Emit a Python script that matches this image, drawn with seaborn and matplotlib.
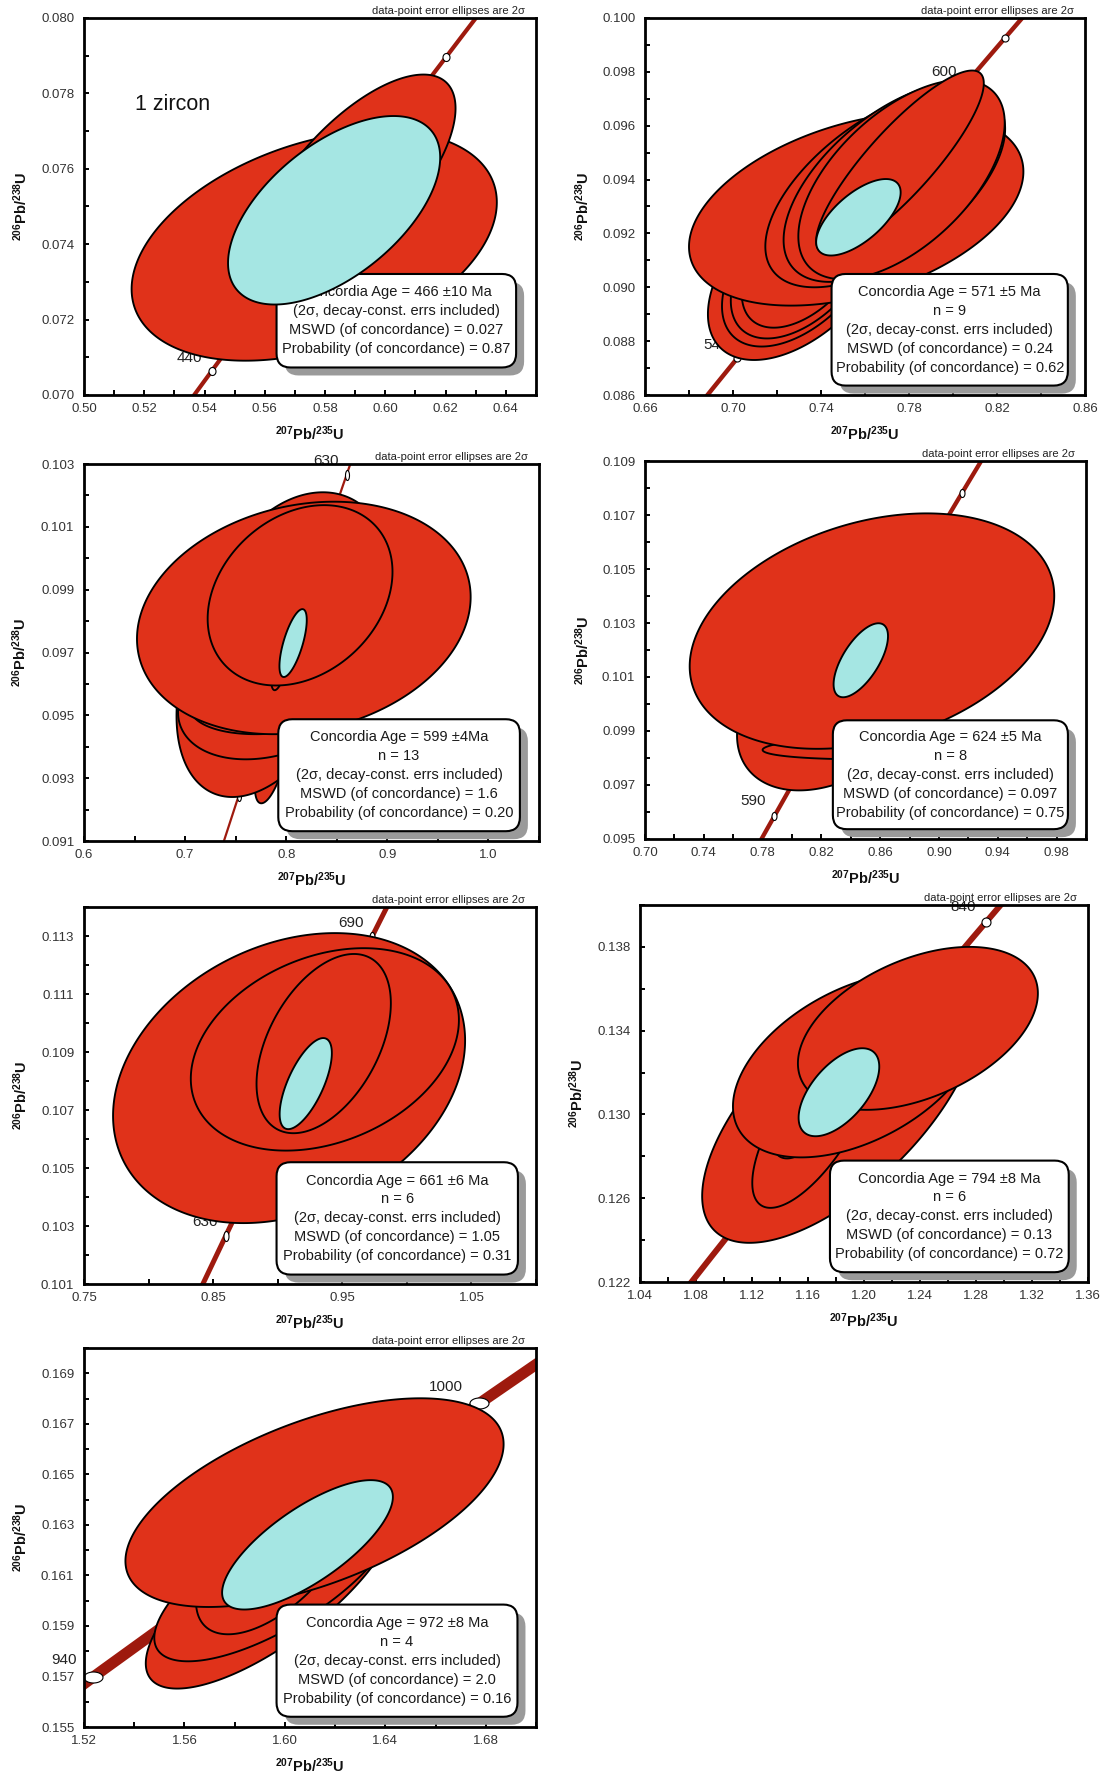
import numpy as np
import pandas as pd
import matplotlib
matplotlib.use("Agg")
import matplotlib.pyplot as plt
import seaborn as sns
from matplotlib.patches import Polygon, FancyBboxPatch
from matplotlib.path import Path
from matplotlib.ticker import MultipleLocator

# ---------------------------------------------------------------- data
LAMBDA_238 = 1.55125e-10   # decay constants (1/yr) used for the concordia curve
LAMBDA_235 = 9.8485e-10

ERR_LINE = "(2\u03c3, decay-const. errs included)"
NOTE = "data-point error ellipses are 2\u03c3"

# Panel 1 -------------------------------------------------------------
P1_XTICKLABELS = ["0.50", "0.52", "0.54", "0.56", "0.58", "0.60", "0.62", "0.64"]
P1_YTICKLABELS = ["0.070", "0.072", "0.074", "0.076", "0.078", "0.080"]
P1_XLIM = (0.50, 0.65)
P1_YLIM = (0.070, 0.080)
P1_CX = [0.5764, 0.5900]
P1_CY = [0.07396, 0.07570]
P1_SX = [0.0606, 0.0333]
P1_SY = [0.00305, 0.00280]
P1_RHO = [0.377, 0.68]
P1_AGE_ELL = [0.5830, 0.07490, 0.0352, 0.00250, 0.56]
P1_MARK_AGES = [440, 490]
P1_LABEL_AGES = [440]
P1_BOX = ["Concordia Age = 466 \u00b110 Ma", ERR_LINE,
          "MSWD (of concordance) = 0.027", "Probability (of concordance) = 0.87"]

# Panel 2 -------------------------------------------------------------
P2_XTICKLABELS = ["0.66", "0.70", "0.74", "0.78", "0.82", "0.86"]
P2_YTICKLABELS = ["0.086", "0.088", "0.090", "0.092", "0.094", "0.096", "0.098", "0.100"]
P2_XLIM = (0.66, 0.86)
P2_YLIM = (0.086, 0.100)
P2_CX = [0.7306, 0.7310, 0.7320, 0.7330, 0.7560, 0.7692, 0.7730, 0.7766, 0.7759]
P2_CY = [0.0907, 0.0908, 0.0909, 0.0910, 0.0929, 0.0937, 0.0939, 0.0940, 0.09465]
P2_SX = [0.042, 0.036, 0.033, 0.029, 0.076, 0.0545, 0.050, 0.0469, 0.0381]
P2_SY = [0.0034, 0.0030, 0.0028, 0.0025, 0.00358, 0.0037, 0.0037, 0.0037, 0.0034]
P2_RHO = [0.5, 0.5, 0.5, 0.5, 0.39, 0.59, 0.58, 0.57, 0.86]
P2_AGE_ELL = [0.757, 0.0926, 0.0192, 0.00142, 0.65]
P2_MARK_AGES = [540, 610]
P2_LABEL_AGES = [540, 600]
P2_BOX = ["Concordia Age = 571 \u00b15 Ma", "n = 9", ERR_LINE,
          "MSWD (of concordance) = 0.24", "Probability (of concordance) = 0.62"]

# Panel 3 -------------------------------------------------------------
P3_XTICKLABELS = ["0.6", "0.7", "0.8", "0.9", "1.0"]
P3_YTICKLABELS = ["0.091", "0.093", "0.095", "0.097", "0.099", "0.101", "0.103"]
P3_XLIM = (0.60, 1.05)
P3_YLIM = (0.091, 0.103)
P3_CX = [0.7850, 0.7835, 0.7887, 0.7980, 0.8150, 0.8174, 0.7970, 0.8137]
P3_CY = [0.0935, 0.0967, 0.09574, 0.0957, 0.0990, 0.0981, 0.0971, 0.09882]
P3_SX = [0.016, 0.092, 0.0957, 0.094, 0.085, 0.165, 0.012, 0.0914]
P3_SY = [0.0013, 0.0043, 0.00214, 0.0013, 0.0031, 0.0037, 0.0013, 0.00287]
P3_RHO = [0.6, 0.4, 0.3, 0.3, 0.25, 0.18, 0.7, 0.26]
P3_AGE_ELL = [0.8068, 0.0973, 0.0135, 0.00108, 0.68]
P3_MARK_AGES = [570, 630]
P3_LABEL_AGES = [570, 630]
P3_BOX = ["Concordia Age = 599 \u00b14Ma", "n = 13", ERR_LINE,
          "MSWD (of concordance) = 1.6", "Probability (of concordance) = 0.20"]

# Panel 4 -------------------------------------------------------------
P4_XTICKLABELS = ["0.70", "0.74", "0.78", "0.82", "0.86", "0.90", "0.94", "0.98"]
P4_YTICKLABELS = ["0.095", "0.097", "0.099", "0.101", "0.103", "0.105", "0.107", "0.109"]
P4_XLIM = (0.70, 1.00)
P4_YLIM = (0.095, 0.109)
P4_CX = [0.8329, 0.8800, 0.8544]
P4_CY = [0.1002, 0.09845, 0.1027]
P4_SX = [0.0703, 0.100, 0.124]
P4_SY = [0.0034, 0.0005, 0.00436]
P4_RHO = [0.4, 0.3, 0.30]
P4_AGE_ELL = [0.8468, 0.10162, 0.0185, 0.00137, 0.65]
P4_MARK_AGES = [590, 660]
P4_LABEL_AGES = [590]
P4_BOX = ["Concordia Age = 624 \u00b15 Ma", "n = 8", ERR_LINE,
          "MSWD (of concordance) = 0.097", "Probability (of concordance) = 0.75"]

# Panel 5 -------------------------------------------------------------
P5_XTICKLABELS = ["0.75", "0.85", "0.95", "1.05"]
P5_YTICKLABELS = ["0.101", "0.103", "0.105", "0.107", "0.109", "0.111", "0.113"]
P5_XLIM = (0.75, 1.10)
P5_YLIM = (0.101, 0.114)
P5_CX = [0.9088, 0.9365, 0.9356]
P5_CY = [0.1081, 0.10909, 0.10929]
P5_SX = [0.1363, 0.1038, 0.052]
P5_SY = [0.0050, 0.00349, 0.00309]
P5_RHO = [0.26, 0.29, 0.45]
P5_AGE_ELL = [0.9217, 0.10791, 0.0202, 0.00157, 0.67]
P5_MARK_AGES = [630, 690]
P5_LABEL_AGES = [630, 690]
P5_BOX = ["Concordia Age = 661 \u00b16 Ma", "n = 6", ERR_LINE,
          "MSWD (of concordance) = 1.05", "Probability (of concordance) = 0.31"]

# Panel 6 -------------------------------------------------------------
P6_XTICKLABELS = ["1.04", "1.08", "1.12", "1.16", "1.20", "1.24", "1.28", "1.32", "1.36"]
P6_YTICKLABELS = ["0.122", "0.126", "0.130", "0.134", "0.138"]
P6_XLIM = (1.04, 1.36)
P6_YLIM = (0.122, 0.140)
P6_CX = [1.1829, 1.1635, 1.1550, 1.1950, 1.2385]
P6_CY = [0.13037, 0.12951, 0.1295, 0.13237, 0.13411]
P6_SX = [0.0985, 0.0433, 0.020, 0.0886, 0.0857]
P6_SY = [0.0065, 0.00397, 0.0016, 0.00442, 0.00389]
P6_RHO = [0.657, 0.7, 0.5, 0.45, 0.43]
P6_AGE_ELL = [1.1821, 0.13106, 0.0288, 0.0021, 0.58]
P6_MARK_AGES = [840]
P6_LABEL_AGES = [840]
P6_BOX = ["Concordia Age = 794 \u00b18 Ma", "n = 6", ERR_LINE,
          "MSWD (of concordance) = 0.13", "Probability (of concordance) = 0.72"]

# Panel 7 -------------------------------------------------------------
P7_XTICKLABELS = ["1.52", "1.56", "1.60", "1.64", "1.68"]
P7_YTICKLABELS = ["0.155", "0.157", "0.159", "0.161", "0.163", "0.165", "0.167", "0.169"]
P7_XLIM = (1.52, 1.70)
P7_YLIM = (0.155, 0.170)
P7_CX = [1.5946, 1.5960, 1.5966, 1.6118]
P7_CY = [0.16052, 0.1609, 0.16192, 0.16388]
P7_SX = [0.050, 0.048, 0.032, 0.0753]
P7_SY = [0.0040, 0.0033, 0.00325, 0.00413]
P7_RHO = [0.75, 0.72, 0.6, 0.56]
P7_AGE_ELL = [1.609, 0.16221, 0.034, 0.00256, 0.74]
P7_MARK_AGES = [940, 1000]
P7_LABEL_AGES = [940, 1000]
P7_BOX = ["Concordia Age = 972 \u00b18 Ma", "n = 4", ERR_LINE,
          "MSWD (of concordance) = 2.0", "Probability (of concordance) = 0.16"]

ZIRCON_NOTE = "1 zircon"
ZIRCON_XY = (0.517, 0.0777)

PANELS = {
    "P1": dict(xt=P1_XTICKLABELS, yt=P1_YTICKLABELS, xlim=P1_XLIM, ylim=P1_YLIM, xminor=0.01, yminor=0.001,
               cx=P1_CX, cy=P1_CY, sx=P1_SX, sy=P1_SY, rho=P1_RHO, age=P1_AGE_ELL,
               marks=P1_MARK_AGES, labels=P1_LABEL_AGES, box=P1_BOX),
    "P2": dict(xt=P2_XTICKLABELS, yt=P2_YTICKLABELS, xlim=P2_XLIM, ylim=P2_YLIM, xminor=0.02, yminor=0.001,
               cx=P2_CX, cy=P2_CY, sx=P2_SX, sy=P2_SY, rho=P2_RHO, age=P2_AGE_ELL,
               marks=P2_MARK_AGES, labels=P2_LABEL_AGES, box=P2_BOX),
    "P3": dict(xt=P3_XTICKLABELS, yt=P3_YTICKLABELS, xlim=P3_XLIM, ylim=P3_YLIM, xminor=0.05, yminor=0.001,
               cx=P3_CX, cy=P3_CY, sx=P3_SX, sy=P3_SY, rho=P3_RHO, age=P3_AGE_ELL,
               marks=P3_MARK_AGES, labels=P3_LABEL_AGES, box=P3_BOX),
    "P4": dict(xt=P4_XTICKLABELS, yt=P4_YTICKLABELS, xlim=P4_XLIM, ylim=P4_YLIM, xminor=0.02, yminor=0.001,
               cx=P4_CX, cy=P4_CY, sx=P4_SX, sy=P4_SY, rho=P4_RHO, age=P4_AGE_ELL,
               marks=P4_MARK_AGES, labels=P4_LABEL_AGES, box=P4_BOX),
    "P5": dict(xt=P5_XTICKLABELS, yt=P5_YTICKLABELS, xlim=P5_XLIM, ylim=P5_YLIM, xminor=0.05, yminor=0.001,
               cx=P5_CX, cy=P5_CY, sx=P5_SX, sy=P5_SY, rho=P5_RHO, age=P5_AGE_ELL,
               marks=P5_MARK_AGES, labels=P5_LABEL_AGES, box=P5_BOX),
    "P6": dict(xt=P6_XTICKLABELS, yt=P6_YTICKLABELS, xlim=P6_XLIM, ylim=P6_YLIM, xminor=0.02, yminor=0.002,
               cx=P6_CX, cy=P6_CY, sx=P6_SX, sy=P6_SY, rho=P6_RHO, age=P6_AGE_ELL,
               marks=P6_MARK_AGES, labels=P6_LABEL_AGES, box=P6_BOX),
    "P7": dict(xt=P7_XTICKLABELS, yt=P7_YTICKLABELS, xlim=P7_XLIM, ylim=P7_YLIM, xminor=0.02, yminor=0.001,
               cx=P7_CX, cy=P7_CY, sx=P7_SX, sy=P7_SY, rho=P7_RHO, age=P7_AGE_ELL,
               marks=P7_MARK_AGES, labels=P7_LABEL_AGES, box=P7_BOX),
}

# ---------------------------------------------------------------- layout / style
FIG_W, FIG_H = 1113, 1776
LAYOUT = {
    "P1": dict(px=(84, 536, 18, 395), conc_lw=3.0, mark_wh=(7, 8), label_off=(-7, 9),
               tbox=(0.426, 0.073, 0.956, 0.321)),
    "P2": dict(px=(645, 1085, 18, 395), conc_lw=3.2, mark_wh=(7, 7), label_off=(-6, 9),
               tbox=(0.424, 0.025, 0.961, 0.321)),
    "P3": dict(px=(84, 539, 464, 841), conc_lw=1.6, mark_wh=(4, 10), label_off=(-6, 10),
               tbox=(0.427, 0.026, 0.958, 0.323)),
    "P4": dict(px=(645, 1086, 461, 839), conc_lw=3.1, mark_wh=(5, 8), label_off=(-6, 11),
               tbox=(0.426, 0.026, 0.959, 0.314)),
    "P5": dict(px=(84, 536, 907, 1284), conc_lw=3.6, mark_wh=(5, 10), label_off=(-6, 10),
               tbox=(0.426, 0.025, 0.960, 0.323)),
    "P6": dict(px=(640, 1088, 905, 1282), conc_lw=4.3, mark_wh=(9, 9), label_off=(-7, 11),
               tbox=(0.424, 0.026, 0.957, 0.322)),
    "P7": dict(px=(84, 536, 1348, 1727), conc_lw=8.0, mark_wh=(19, 11), label_off=(-12, 12),
               tbox=(0.426, 0.027, 0.959, 0.323)),
}
RED = "#E0321A"
CYAN = "#A5E6E3"
CONC_COLOR = "#9E1A0E"
XLABEL = r"$^{\mathbf{207}}\mathbf{Pb/}^{\mathbf{235}}\mathbf{U}$"
YLABEL = r"$^{\mathbf{206}}\mathbf{Pb/}^{\mathbf{238}}\mathbf{U}$"

sns.set_theme(style="white")
plt.rcParams["font.family"] = ["Liberation Sans", "DejaVu Sans"]
plt.rcParams["mathtext.fontset"] = "custom"
plt.rcParams["mathtext.rm"] = "Liberation Sans"
plt.rcParams["mathtext.bf"] = "Liberation Sans:bold"
plt.rcParams["mathtext.it"] = "Liberation Sans:italic"


def ratios_from_age(age_ma):
    a = np.asarray(age_ma, dtype=float) * 1e6
    return np.expm1(LAMBDA_235 * a), np.expm1(LAMBDA_238 * a)


def ellipse_xy(cx, cy, sx, sy, rho, n=361):
    t = np.linspace(0, 2 * np.pi, n)
    x = cx + sx * np.cos(t)
    y = cy + sy * (rho * np.cos(t) + np.sqrt(1 - rho ** 2) * np.sin(t))
    return np.column_stack([x, y])


fig = plt.figure(figsize=(FIG_W / 100, FIG_H / 100), dpi=100)
fig.patch.set_facecolor("white")

for key, p in PANELS.items():
    lay = LAYOUT[key]
    l, r, t, b = lay["px"]
    aw, ah = r - l, b - t
    ax = fig.add_axes([l / FIG_W, 1 - b / FIG_H, aw / FIG_W, ah / FIG_H])
    ax.set_facecolor("white")
    ax.set_xlim(*p["xlim"])
    ax.set_ylim(*p["ylim"])

    # concordia curve
    t_lo = min(np.log1p(p["xlim"][0]) / LAMBDA_235, np.log1p(p["ylim"][0]) / LAMBDA_238) / 1e6 - 40
    t_hi = max(np.log1p(p["xlim"][1]) / LAMBDA_235, np.log1p(p["ylim"][1]) / LAMBDA_238) / 1e6 + 40
    ages = np.linspace(t_lo, t_hi, 400)
    ccx, ccy = ratios_from_age(ages)
    conc = pd.DataFrame({"x": ccx, "y": ccy})
    sns.lineplot(data=conc, x="x", y="y", sort=False, estimator=None, color=CONC_COLOR,
                 linewidth=lay["conc_lw"], ax=ax, zorder=1, solid_capstyle="butt")

    # age markers on concordia
    w, h = lay["mark_wh"]
    tt = np.linspace(0, 2 * np.pi, 72)
    mpath = Path(np.column_stack([w / 2 * np.cos(tt), h / 2 * np.sin(tt)]))
    mx, my = ratios_from_age(p["marks"])
    sns.scatterplot(x=mx, y=my, marker=mpath, s=(max(w, h) * 0.72) ** 2, color="white",
                    edgecolor="black", linewidth=0.8, ax=ax, zorder=2, legend=False)
    for age in p["labels"]:
        lx, ly = ratios_from_age(age)
        ax.annotate(str(age), (float(lx), float(ly)), xytext=lay["label_off"], textcoords="offset points",
                    ha="right", va="center", fontsize=11, color="#222222", zorder=2,
                    annotation_clip=False)

    # data-point error ellipses
    for i, (cx, cy, sx, sy, rho) in enumerate(zip(p["cx"], p["cy"], p["sx"], p["sy"], p["rho"])):
        ax.add_patch(Polygon(ellipse_xy(cx, cy, sx, sy, rho), closed=True, facecolor=RED,
                             edgecolor="black", linewidth=1.35, zorder=3 + 0.01 * i))
    # concordia-age ellipse
    ax.add_patch(Polygon(ellipse_xy(*p["age"]), closed=True, facecolor=CYAN,
                         edgecolor="black", linewidth=1.35, zorder=4))

    # results box with shadow
    x0, y0, x1, y1 = lay["tbox"]
    rs = 14 / aw
    style = f"round,pad=0,rounding_size={rs}"
    ax.add_patch(FancyBboxPatch((x0 + 8 / aw, y0 - 8 / ah), x1 - x0, y1 - y0, boxstyle=style,
                                mutation_aspect=aw / ah, transform=ax.transAxes,
                                facecolor="#9a9a9a", edgecolor="none", zorder=3.4, clip_on=False))
    ax.add_patch(FancyBboxPatch((x0, y0), x1 - x0, y1 - y0, boxstyle=style,
                                mutation_aspect=aw / ah, transform=ax.transAxes,
                                facecolor="white", edgecolor="black", linewidth=1.5, zorder=3.5,
                                clip_on=False))
    ax.text((x0 + x1) / 2, (y0 + y1) / 2, "\n".join(p["box"]), transform=ax.transAxes,
            ha="center", va="center", fontsize=10.5, linespacing=1.45, color="#1a1a1a", zorder=3.6)

    # note above the frame
    ax.text(0.975, 1.004, NOTE, transform=ax.transAxes, ha="right", va="bottom",
            fontsize=8, color="#222222", zorder=5)

    # axes, ticks, labels
    ax.set_xticks([float(s) for s in p["xt"]], p["xt"])
    ax.set_yticks([float(s) for s in p["yt"]], p["yt"])
    ax.xaxis.set_minor_locator(MultipleLocator(p["xminor"]))
    ax.yaxis.set_minor_locator(MultipleLocator(p["yminor"]))
    ax.tick_params(which="both", direction="in", top=False, right=False, bottom=True, left=True,
                   length=3.5, width=1.4, color="black")
    ax.tick_params(axis="x", which="major", labelsize=9.5, pad=6, labelcolor="#333333")
    ax.tick_params(axis="y", which="major", labelsize=9.5, pad=7, labelcolor="#333333")
    for sp in ax.spines.values():
        sp.set_linewidth(2.0)
        sp.set_color("black")
        sp.set_visible(True)
    ax.set_xlabel(XLABEL, fontsize=10.5, color="#111111")
    ax.set_ylabel(YLABEL, fontsize=10.5, color="#111111")
    ax.xaxis.set_label_coords(0.5, -0.078)
    ax.yaxis.set_label_coords(-0.12, 0.5)

    if key == "P1":
        ax.text(ZIRCON_XY[0], ZIRCON_XY[1], ZIRCON_NOTE, fontsize=15.5, ha="left", va="center",
                color="#111111", zorder=5)

fig.savefig("out.png", dpi=100, facecolor="white")
